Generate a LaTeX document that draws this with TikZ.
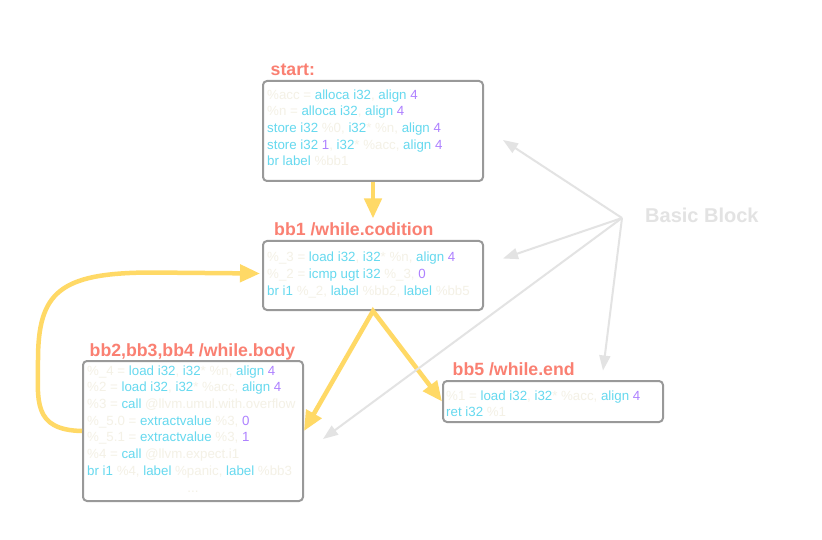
\documentclass[tikz,border=0pt]{standalone}
\usepackage{fontspec}
\setmainfont{Liberation Sans}
\usetikzlibrary{arrows.meta,calc}
\definecolor{cream}{HTML}{F4F1E6}
\definecolor{kw}{HTML}{66D9EF}
\definecolor{num}{HTML}{AE81FF}
\definecolor{ttlc}{HTML}{FA8072}
\definecolor{boxc}{HTML}{999999}
\definecolor{yel}{HTML}{FFD966}
\definecolor{lgray}{HTML}{E3E3E3}
\newcommand\ck[1]{\textcolor{kw}{#1}}
\newcommand\cn[1]{\textcolor{num}{#1}}
\begin{document}
\begin{tikzpicture}[x=1pt,y=-1pt,
  blk/.style={draw=boxc, line width=2pt, rounded corners=4pt, anchor=north west, inner sep=0pt},
  ttl/.style={text=ttlc, font=\fontsize{17.7}{20}\selectfont\bfseries, anchor=base west, inner sep=0pt},
  code/.style={text=cream, font=\fontsize{13.3}{16.67}\selectfont, align=left, anchor=north west, inner sep=0pt},
  yarr/.style={draw=yel, line width=4.5pt, -{Triangle[length=20pt,width=17pt]}},
  yarr2/.style={draw=yel, line width=4.5pt, line join=miter, {Triangle[length=20pt,width=17pt]}-{Triangle[length=20pt,width=17pt]}},
  garr/.style={draw=lgray, line width=2pt, -{Triangle[length=15pt,width=11pt]}}
]
\useasboundingbox[fill=white] (0,0) rectangle (822,540);

% boxes
\node[blk, minimum width=220pt, minimum height=100pt] (start) at (262,80) {};
\node[blk, minimum width=220pt, minimum height=69pt] (bb1) at (262,240) {};
\node[blk, minimum width=220pt, minimum height=140pt] (body) at (82,360) {};
\node[blk, minimum width=220pt, minimum height=41pt] (bb5) at (442,380) {};

% titles
\node[ttl] (tstart) at (270.5,75.5) {start:};
\node[ttl] (tbb1) at (274,235.5) {bb1 /while.codition};
\node[ttl] (tbody) at (89.5,356.5) {bb2,bb3,bb4 /while.body};
\node[ttl] (tbb5) at (452.5,375.5) {bb5 /while.end};
\node[text=lgray, font=\fontsize{20}{22}\selectfont\bfseries, anchor=base west, inner sep=0pt] (bblabel) at (645,222.5) {Basic Block};

% code
\node[code] (cstart) at (267,89.3) {%
\%acc = \ck{alloca i32}, \ck{align} \cn{4}\\
\%n = \ck{alloca i32}, \ck{align} \cn{4}\\
\ck{store i32} \%0, \ck{i32}* \%n, \ck{align} \cn{4}\\
\ck{store i32} \cn{1}, \ck{i32}* \%acc, \ck{align} \cn{4}\\
\ck{br label} \%bb1};

\node[code] (cbb1) at (267,252) {%
\%\_3 = \ck{load i32}, \ck{i32}* \%n, \ck{align} \cn{4}\\
\%\_2 = \ck{icmp ugt i32} \%\_3, \cn{0}\\
\ck{br i1} \%\_2, \ck{label} \%bb2, \ck{label} \%bb5};

\node[code] (cbody) at (87,365.3) {%
\%\_4 = \ck{load i32}, \ck{i32}* \%n, \ck{align} \cn{4}\\
\%2 = \ck{load i32}, \ck{i32}* \%acc, \ck{align} \cn{4}\\
\%3 = \ck{call} @llvm.umul.with.overflow\\
\%\_5.0 = \ck{extractvalue} \%3, \cn{0}\\
\%\_5.1 = \ck{extractvalue} \%3, \cn{1}\\
\%4 = \ck{call} @llvm.expect.i1\\
\ck{br i1} \%4, \ck{label} \%panic, \ck{label} \%bb3};
\node[text=cream, font=\fontsize{13.3}{16}\selectfont, anchor=base, inner sep=0pt] (dots) at (193,492) {...};

\node[code] (cbb5) at (446,390.3) {%
\%1 = \ck{load i32}, \ck{i32}* \%acc, \ck{align} \cn{4}\\
\ck{ret i32} \%1};

% yellow flow arrows
\draw[yarr] (start.south) -- ($(tbb1.north -| start.south)+(0,-4)$);
\draw[yarr2] (body.east) -- (bb1.south) -- (bb5.west);
\draw[yarr] (body.west) .. controls (32,430) and (38,400) .. (38,360)
  .. controls (38,292) and (60,273) .. (150,272.5) -- ([xshift=-2pt,yshift=2pt]bb1.west);

% gray pointers from "Basic Block"
\coordinate (hub) at (622,218);
\coordinate (p1) at (503,140);
\coordinate (p2) at (503,258.5);
\coordinate (p3) at (323,439);
\coordinate (p4) at (603,370.5);
\draw[garr] (hub) -- (p1);
\draw[garr] (hub) -- (p2);
\draw[garr] (hub) -- (p3);
\draw[garr] (hub) -- (p4);
\end{tikzpicture}
\end{document}
